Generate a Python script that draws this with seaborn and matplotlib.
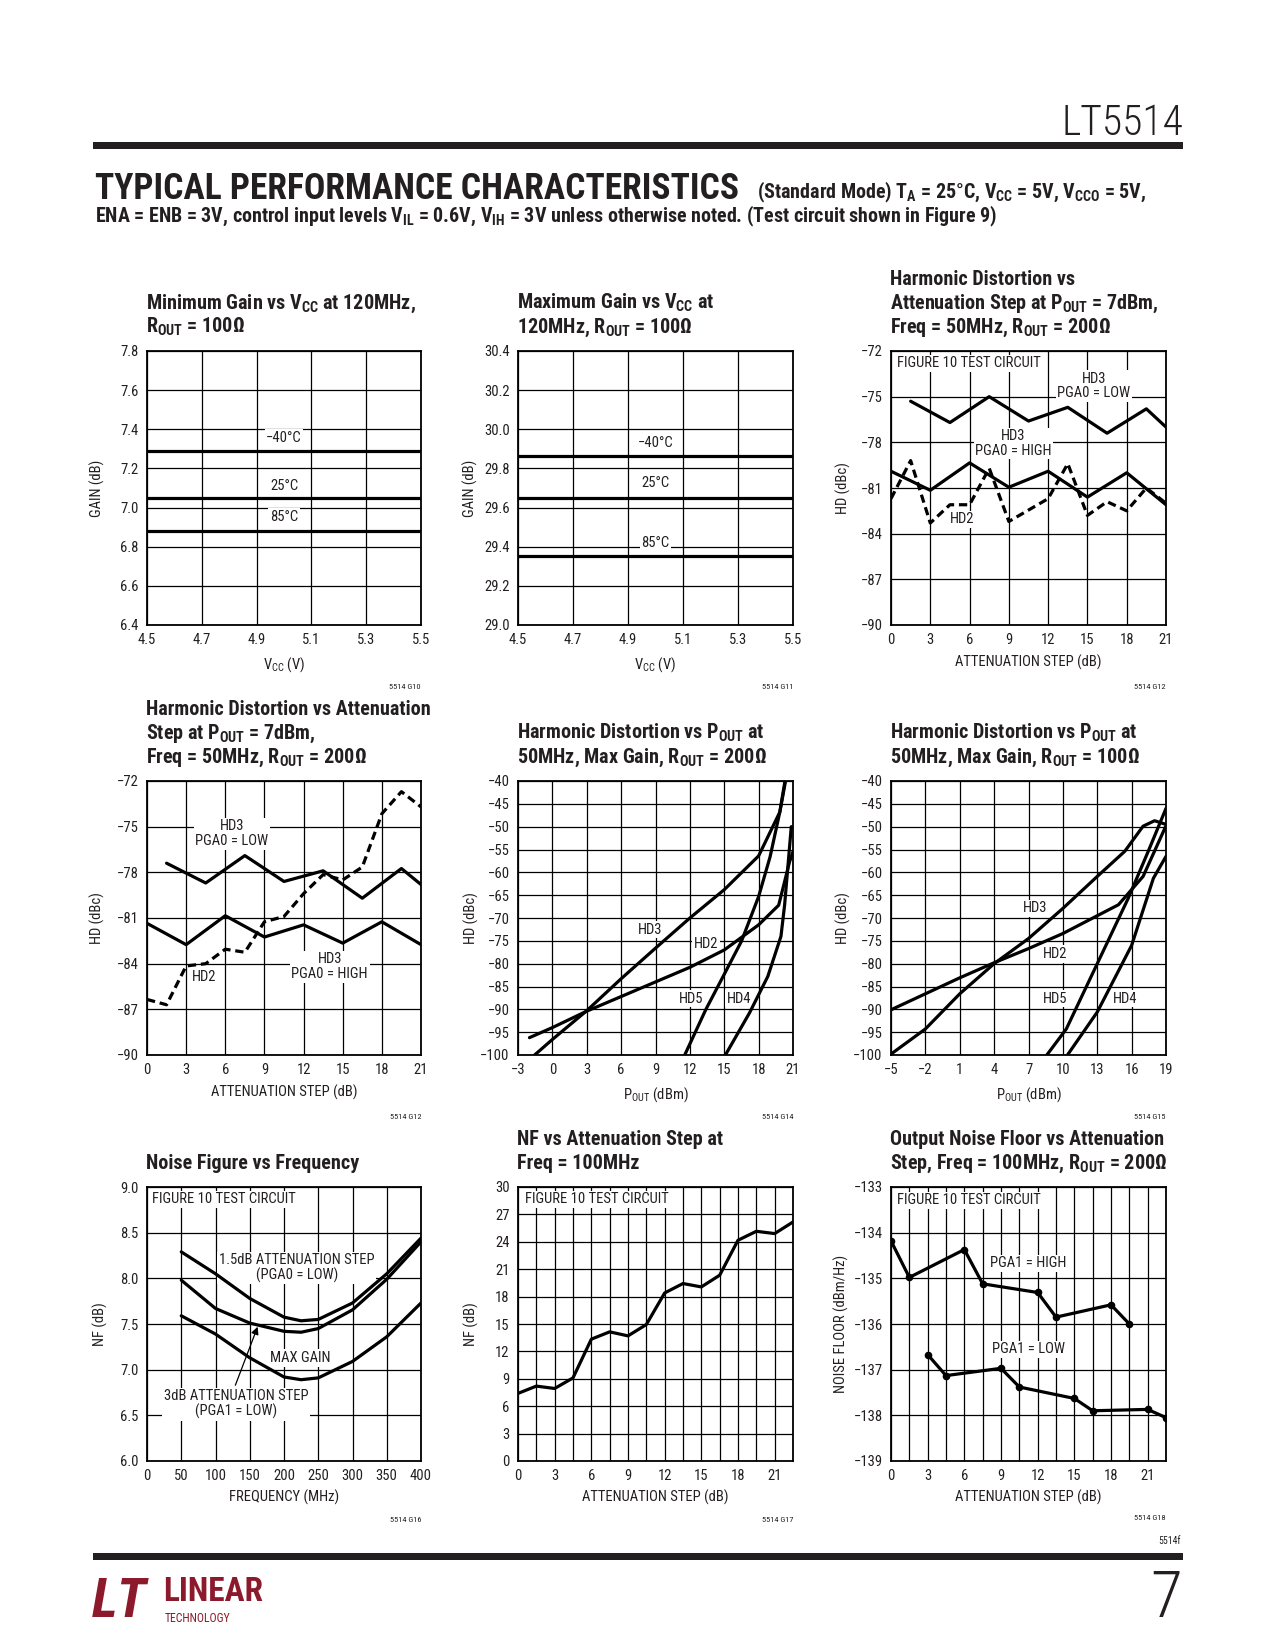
import matplotlib
matplotlib.use('Agg')
import matplotlib.pyplot as plt
from matplotlib import font_manager
from matplotlib.patches import Rectangle
import seaborn as sns

# ---------------- data ----------------
# Panel 1: minimum gain vs VCC
vcc = [4.5, 4.7, 4.9, 5.1, 5.3, 5.5]
min_gain_m40 = [7.29, 7.29, 7.29, 7.29, 7.29, 7.29]
min_gain_25 = [7.05, 7.05, 7.05, 7.05, 7.05, 7.05]
min_gain_85 = [6.88, 6.88, 6.88, 6.88, 6.88, 6.88]
# Panel 2: maximum gain vs VCC
max_gain_m40 = [29.865, 29.865, 29.865, 29.865, 29.865, 29.865]
max_gain_25 = [29.65, 29.65, 29.65, 29.65, 29.65, 29.65]
max_gain_85 = [29.352, 29.352, 29.352, 29.352, 29.352, 29.352]

# Panel 3: HD vs attenuation step (first)
p3_low_x = [1.5, 4.5, 7.5, 10.5, 13.5, 16.5, 19.5, 21]
p3_hd3_low = [-75.3, -76.7, -75.0, -76.6, -75.7, -77.4, -75.8, -77.0]
p3_high_x = [0, 3, 6, 9, 12, 15, 18, 21]
p3_hd3_high = [-79.9, -81.15, -79.35, -80.95, -79.9, -81.6, -80.0, -82.1]
p3_hd2_x = [0, 1.5, 3, 4.5, 6, 7.5, 9, 12, 13.5, 15, 16.5, 18, 19.5, 21]
p3_hd2 = [-81.7, -79.2, -83.3, -82.1, -82.1, -79.7, -83.2, -81.7, -79.4, -82.8,
          -81.9, -82.5, -81.0, -82.0]

# Panel 4: HD vs attenuation step (second)
p4_low_x = [1.5, 4.5, 7.5, 10.5, 13.5, 16.5, 19.5, 21]
p4_hd3_low = [-77.4, -78.7, -76.9, -78.6, -77.9, -79.7, -77.75, -78.8]
p4_high_x = [0, 3, 6, 9, 12, 15, 18, 21]
p4_hd3_high = [-81.35, -82.75, -80.85, -82.25, -81.45, -82.65, -81.25, -82.75]
p4_hd2_x = [0, 1.5, 3, 4.5, 6, 7.5, 9, 10.5, 12, 13.5, 15, 16.5, 18, 19.5, 21]
p4_hd2 = [-86.35, -86.7, -84.15, -84.0, -83.05, -83.25, -81.25, -80.9, -79.4,
          -78.15, -78.5, -77.65, -74.15, -72.7, -73.7]

# Panel 5: HD vs POUT, ROUT = 200 ohm
p5_hd3_x = [-1.55, 0, 3, 6, 9, 12, 15, 18, 19.85, 20.35]
p5_hd3 = [-100, -96.6, -90.3, -83.3, -76.6, -70.0, -63.8, -56.4, -46.8, -40]
p5_hd2_x = [-2, 0, 3, 6, 9, 12, 15, 18, 19.75, 20.7, 21]
p5_hd2 = [-96.2, -94.0, -90.4, -87.2, -84.0, -80.8, -77.0, -71.5, -67.2, -57.7, -55.5]
p5_hd5_x = [11.55, 13.4, 14.9, 16.5, 18, 19, 19.85, 20.3]
p5_hd5 = [-100, -90.0, -82.8, -75.1, -65.3, -56.6, -46.8, -40]
p5_hd4_x = [15.1, 17.2, 18.8, 19.95, 20.27, 20.85]
p5_hd4 = [-100, -90.8, -82.8, -74.0, -67.1, -50.0]

# Panel 6: HD vs POUT, ROUT = 100 ohm
p6_hd3_x = [-5, -2, 1, 4, 7, 10, 13, 15.4, 17, 18, 19]
p6_hd3 = [-99.8, -94.3, -86.6, -80.0, -74.5, -67.9, -60.9, -55.4, -49.9, -48.7, -49.5]
p6_hd2_x = [-5, -2, 1, 4, 7, 10, 13, 14.85, 17, 19]
p6_hd2 = [-90.1, -86.6, -83.1, -79.8, -76.7, -73.4, -69.5, -67.1, -60.9, -49.8]
p6_hd5_x = [8.6, 10.3, 13, 15.7, 17.45, 19]
p6_hd5 = [-100, -94.3, -80.0, -65.7, -55.4, -46.0]
p6_hd4_x = [10.4, 13, 16, 17.9, 19]
p6_hd4 = [-100, -90.6, -76.0, -61.3, -56.5]

# Panel 7: noise figure vs frequency
freq = [50, 100, 150, 200, 225, 250, 300, 350, 400]
nf_att15 = [8.29, 8.05, 7.78, 7.575, 7.535, 7.55, 7.73, 8.05, 8.44]
nf_att3 = [7.98, 7.67, 7.51, 7.42, 7.41, 7.45, 7.655, 7.99, 8.40]
nf_max = [7.59, 7.39, 7.13, 6.92, 6.89, 6.91, 7.09, 7.36, 7.73]

# Panel 8: NF vs attenuation step
p8_step = [0, 1.5, 3, 4.5, 6, 7.5, 9, 10.5, 12, 13.5, 15, 16.5, 18, 19.5, 21, 22.5]
p8_nf = [7.4, 8.2, 7.94, 9.1, 13.34, 14.14, 13.7, 14.94, 18.4, 19.43, 19.06, 20.34,
         24.17, 25.15, 24.9, 26.17]

# Panel 9: output noise floor vs attenuation step
p9_high_x = [0, 1.5, 6, 7.5, 12, 13.5, 18, 19.5]
p9_high = [-134.18, -134.98, -134.37, -135.12, -135.31, -135.85, -135.58, -136.0]
p9_low_x = [3, 4.5, 9, 10.5, 15, 16.5, 21, 22.5]
p9_low = [-136.67, -137.13, -136.97, -137.38, -137.63, -137.9, -137.87, -138.05]

# ---------------- style ----------------
sns.set_theme(style='white')
avail = {f.name for f in font_manager.fontManager.ttflist}


def pick(*names):
    for n in names:
        if n in avail:
            return n
    return 'DejaVu Sans'


NARROW = pick('Liberation Sans Narrow', 'Roboto Condensed', 'Open Sans Condensed',
              'Liberation Sans')
plt.rcParams['font.family'] = [NARROW, 'DejaVu Sans']
plt.rcParams['mathtext.default'] = 'regular'
plt.rcParams['axes.unicode_minus'] = True

W, H = 1275, 1650
fig = plt.figure(figsize=(W / 100, H / 100), dpi=100)
fig.patch.set_facecolor('white')
INK = '#231f20'


def fx(px):
    return px / W


def fy(py):
    return 1 - py / H


cols = [(147, 421), (518, 793), (891, 1166)]
rows = [(351, 625), (781, 1055), (1187, 1461)]


def make_ax(r, c):
    x0, x1 = cols[c]
    y0, y1 = rows[r]
    return fig.add_axes([fx(x0), fy(y1), (x1 - x0) / W, (y1 - y0) / H])


def style(ax, xlim, ylim, xticks, yticks, xlabel, ylabel, ylab_x, xlab_y=-0.11,
          xminor=None):
    ax.set_xlim(*xlim)
    ax.set_ylim(*ylim)
    ax.set_xticks(xticks)
    ax.set_yticks(yticks)
    if xminor is not None:
        ax.set_xticks(xminor, minor=True)
    ax.grid(True, which='both', color='black', lw=0.9, zorder=1)
    ax.set_axisbelow(True)
    ax.tick_params(which='both', length=0, labelsize=10.5, pad=6, colors=INK)
    for s in ax.spines.values():
        s.set_visible(True)
        s.set_color('black')
        s.set_linewidth(1.3)
    ax.set_xlabel(xlabel, fontsize=10.5, color=INK)
    ax.set_ylabel(ylabel, fontsize=10.5, color=INK)
    ax.xaxis.set_label_coords(0.5, xlab_y)
    ax.yaxis.set_label_coords(ylab_x, 0.5)


def line(ax, x, y, dashed=False, **kw):
    sns.lineplot(x=x, y=y, ax=ax, color='black', lw=2.3, estimator=None, sort=False,
                 zorder=4, linestyle=(0, (2.6, 1.5)) if dashed else '-', **kw)


def lab(ax, x, y, s, ha='center', fs=10.5):
    ax.text(x, y, s, fontsize=fs, ha=ha, va='center', ma='center', zorder=3,
            linespacing=1.05, color=INK,
            bbox=dict(fc='white', ec='none', pad=1.2))


def title(r, c, lines):
    top = rows[r][0]
    x0 = cols[c][0]
    n = len(lines)
    for i, s in enumerate(lines):
        base = top - 18 - (n - 1 - i) * 24
        fig.text(fx(x0 - 1), fy(base), s, fontsize=14.5, fontweight='bold',
                 va='baseline', ha='left', color=INK)


def code(r, c, s, y):
    fig.text(fx(cols[c][1]), fy(y), s, fontsize=6, ha='right', va='center', color=INK)


att_ticks = [0, 3, 6, 9, 12, 15, 18, 21]
minor15 = [1.5, 4.5, 7.5, 10.5, 13.5, 16.5, 19.5, 22.5]

# ---- Panel 1 ----
ax = make_ax(0, 0)
for g in (min_gain_m40, min_gain_25, min_gain_85):
    line(ax, vcc, g)
style(ax, (4.5, 5.5), (6.4, 7.8), vcc, [6.4, 6.6, 6.8, 7.0, 7.2, 7.4, 7.6, 7.8],
      r'$V_{CC}$ (V)', 'GAIN (dB)', -0.155)
lab(ax, 5.0, 7.355, '−40°C')
lab(ax, 5.0, 7.11, '25°C')
lab(ax, 5.0, 6.953, '85°C')
title(0, 0, [r'Minimum Gain vs $V_{CC}$ at 120MHz,', r'$R_{OUT}$ = 100Ω'])
code(0, 0, '5514 G10', 687)

# ---- Panel 2 ----
ax = make_ax(0, 1)
for g in (max_gain_m40, max_gain_25, max_gain_85):
    line(ax, vcc, g)
style(ax, (4.5, 5.5), (29.0, 30.4), vcc,
      [29.0, 29.2, 29.4, 29.6, 29.8, 30.0, 30.2, 30.4],
      r'$V_{CC}$ (V)', 'GAIN (dB)', -0.145)
lab(ax, 5.0, 29.93, '−40°C')
lab(ax, 5.0, 29.724, '25°C')
lab(ax, 5.0, 29.42, '85°C')
title(0, 1, [r'Maximum Gain vs $V_{CC}$ at', r'120MHz, $R_{OUT}$ = 100Ω'])
code(0, 1, '5514 G11', 687)

# ---- Panel 3 ----
ax = make_ax(0, 2)
line(ax, p3_low_x, p3_hd3_low)
line(ax, p3_high_x, p3_hd3_high)
line(ax, p3_hd2_x, p3_hd2, dashed=True)
style(ax, (0, 21), (-90, -72), att_ticks, list(range(-90, -71, 3)),
      'ATTENUATION STEP (dB)', 'HD (dBc)', -0.146)
lab(ax, 0.45, -72.8, 'FIGURE 10 TEST CIRCUIT', ha='left')
lab(ax, 15.5, -74.3, 'HD3\nPGA0 = LOW')
lab(ax, 9.36, -78.08, 'HD3\nPGA0 = HIGH')
lab(ax, 5.4, -83.05, 'HD2')
title(0, 2, ['Harmonic Distortion vs', r'Attenuation Step at $P_{OUT}$ = 7dBm,',
             r'Freq = 50MHz, $R_{OUT}$ = 200Ω'])
code(0, 2, '5514 G12', 687)

# ---- Panel 4 ----
ax = make_ax(1, 0)
line(ax, p4_low_x, p4_hd3_low)
line(ax, p4_high_x, p4_hd3_high)
line(ax, p4_hd2_x, p4_hd2, dashed=True)
style(ax, (0, 21), (-90, -72), att_ticks, list(range(-90, -71, 3)),
      'ATTENUATION STEP (dB)', 'HD (dBc)', -0.155)
lab(ax, 6.5, -75.46, 'HD3\nPGA0 = LOW')
lab(ax, 14.0, -84.2, 'HD3\nPGA0 = HIGH')
lab(ax, 4.4, -84.86, 'HD2')
title(1, 0, ['Harmonic Distortion vs Attenuation', r'Step at $P_{OUT}$ = 7dBm,',
             r'Freq = 50MHz, $R_{OUT}$ = 200Ω'])
code(1, 0, '5514 G12', 1117)

# ---- Panel 5 ----
ax = make_ax(1, 1)
line(ax, p5_hd3_x, p5_hd3)
line(ax, p5_hd2_x, p5_hd2)
line(ax, p5_hd5_x, p5_hd5)
line(ax, p5_hd4_x, p5_hd4)
style(ax, (-3, 21), (-100, -40), list(range(-3, 22, 3)), list(range(-100, -39, 5)),
      r'$P_{OUT}$ (dBm)', 'HD (dBc)', -0.142)
lab(ax, 8.5, -72.6, 'HD3')
lab(ax, 13.4, -75.7, 'HD2')
lab(ax, 12.1, -87.7, 'HD5')
lab(ax, 16.3, -87.7, 'HD4')
title(1, 1, [r'Harmonic Distortion vs $P_{OUT}$ at', r'50MHz, Max Gain, $R_{OUT}$ = 200Ω'])
code(1, 1, '5514 G14', 1117)

# ---- Panel 6 ----
ax = make_ax(1, 2)
line(ax, p6_hd3_x, p6_hd3)
line(ax, p6_hd2_x, p6_hd2)
line(ax, p6_hd5_x, p6_hd5)
line(ax, p6_hd4_x, p6_hd4)
style(ax, (-5, 19), (-100, -40), list(range(-5, 20, 3)), list(range(-100, -39, 5)),
      r'$P_{OUT}$ (dBm)', 'HD (dBc)', -0.146)
lab(ax, 7.57, -67.9, 'HD3')
lab(ax, 9.3, -77.9, 'HD2')
lab(ax, 9.3, -87.7, 'HD5')
lab(ax, 15.4, -87.7, 'HD4')
title(1, 2, [r'Harmonic Distortion vs $P_{OUT}$ at', r'50MHz, Max Gain, $R_{OUT}$ = 100Ω'])
code(1, 2, '5514 G15', 1117)

# ---- Panel 7 ----
ax = make_ax(2, 0)
line(ax, freq, nf_att15)
line(ax, freq, nf_att3)
line(ax, freq, nf_max)
style(ax, (0, 400), (6.0, 9.0), list(range(0, 401, 50)),
      [6.0, 6.5, 7.0, 7.5, 8.0, 8.5, 9.0], 'FREQUENCY (MHz)', 'NF (dB)', -0.142,
      xlab_y=-0.105)
lab(ax, 8, 8.865, 'FIGURE 10 TEST CIRCUIT', ha='left')
lab(ax, 218.7, 8.116, '1.5dB ATTENUATION STEP\n(PGA0 = LOW)')
lab(ax, 223.6, 7.127, 'MAX GAIN')
lab(ax, 129.8, 6.62, '3dB ATTENUATION STEP\n(PGA1 = LOW)')
ax.annotate('', xy=(161.5, 7.47), xytext=(129, 6.83), zorder=5,
            arrowprops=dict(arrowstyle='-|>', color='black', lw=0.9,
                            mutation_scale=11, shrinkA=0, shrinkB=0))
title(2, 0, ['Noise Figure vs Frequency'])
code(2, 0, '5514 G16', 1520)

# ---- Panel 8 ----
ax = make_ax(2, 1)
line(ax, p8_step, p8_nf)
style(ax, (0, 22.5), (0, 30), att_ticks, list(range(0, 31, 3)),
      'ATTENUATION STEP (dB)', 'NF (dB)', -0.142, xlab_y=-0.105, xminor=minor15)
lab(ax, 0.55, 28.65, 'FIGURE 10 TEST CIRCUIT', ha='left')
title(2, 1, ['NF vs Attenuation Step at', 'Freq = 100MHz'])
code(2, 1, '5514 G17', 1520)

# ---- Panel 9 ----
ax = make_ax(2, 2)
line(ax, p9_high_x, p9_high, marker='o', markersize=5.5, markeredgewidth=0)
line(ax, p9_low_x, p9_low, marker='o', markersize=5.5, markeredgewidth=0)
style(ax, (0, 22.5), (-139, -133), att_ticks, list(range(-139, -132, 1)),
      'ATTENUATION STEP (dB)', 'NOISE FLOOR (dBm/Hz)', -0.153, xlab_y=-0.105,
      xminor=minor15)
lab(ax, 0.5, -133.29, 'FIGURE 10 TEST CIRCUIT', ha='left')
lab(ax, 11.25, -134.67, 'PGA1 = HIGH')
lab(ax, 11.25, -136.55, 'PGA1 = LOW')
title(2, 2, ['Output Noise Floor vs Attenuation',
             r'Step, Freq = 100MHz, $R_{OUT}$ = 200Ω'])
code(2, 2, '5514 G18', 1518)

# ---------------- page header / footer ----------------
fig.text(fx(1183), fy(135), 'LT5514', fontsize=30, fontweight='light', ha='right',
         va='baseline', color=INK)
fig.add_artist(Rectangle((fx(93), fy(149)), (1183 - 93) / W, 7 / H,
                         transform=fig.transFigure, color=INK, lw=0))
fig.text(fx(95), fy(199), 'TYPICAL PERFORMANCE CHARACTERISTICS', fontsize=25.6,
         fontweight='bold', ha='left', va='baseline', color=INK)
fig.text(fx(757), fy(198),
         r'(Standard Mode) $T_A$ = 25°C, $V_{CC}$ = 5V, $V_{CCO}$ = 5V,',
         fontsize=14.4, fontweight='bold', ha='left', va='baseline', color=INK)
fig.text(fx(95), fy(222),
         r'ENA = ENB = 3V, control input levels $V_{IL}$ = 0.6V, $V_{IH}$ = 3V '
         r'unless otherwise noted. (Test circuit shown in Figure 9)',
         fontsize=14.4, fontweight='bold', ha='left', va='baseline', color=INK)

fig.text(fx(1181), fy(1541), '5514f', fontsize=7, ha='right', va='center', color=INK)
fig.add_artist(Rectangle((fx(93), fy(1560)), (1183 - 93) / W, 7 / H,
                         transform=fig.transFigure, color=INK, lw=0))
fig.text(fx(1182), fy(1617), '7', fontsize=47, fontweight='light', ha='right',
         va='baseline', color=INK)

RED = '#8c1a2c'
fig.text(fx(92), fy(1617), 'LT', fontsize=40, fontweight='bold', style='italic',
         ha='left', va='baseline', color=RED)
fig.text(fx(163), fy(1601), 'LINEAR', fontsize=24, fontweight='bold',
         ha='left', va='baseline', color=RED)
fig.text(fx(165), fy(1622), 'TECHNOLOGY', fontsize=8.5, ha='left', va='baseline',
         color=RED)

fig.savefig('out.png', dpi=100, facecolor='white')
